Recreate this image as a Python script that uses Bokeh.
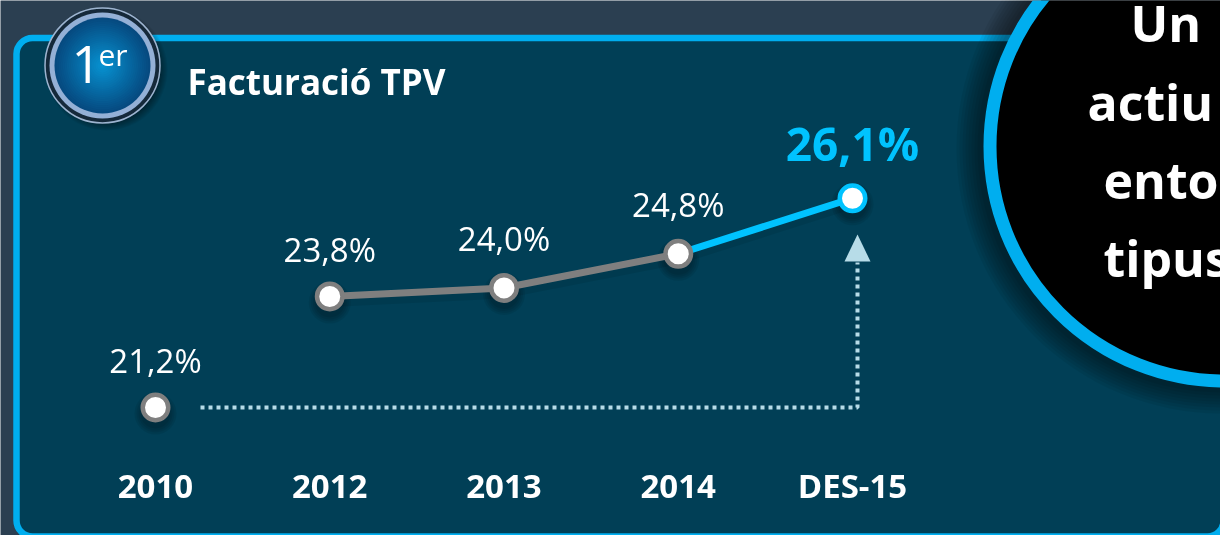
from bokeh.plotting import figure
from bokeh.models import Range1d, LinearAxis, FixedTicker, BoxAnnotation
from bokeh.core.properties import value
from bokeh.embed import file_html
from bokeh.resources import INLINE

categories = ["2010", "2012", "2013", "2014", "DES-15"]
values = [21.2, 23.8, 24.0, 24.8, 26.1]
labels = ["21,2%", "23,8%", "24,0%", "24,8%", "26,1%"]
title = "Facturació TPV"
circle_lines = ["Un", "actiu", "ento", "tipus"]

W, H = 1220, 535
FONT_NAME = "Open Sans"
FONT = value(FONT_NAME)
BLUE = "#00aeef"
CYAN = "#00c3ff"
GREY = "#7f7f7f"
PALE = "#b7dce8"
n = len(categories)
idx = list(range(n))
PX_PER_UNIT = 42.7

p = figure(width=W, height=H, output_backend="svg", toolbar_location=None,
           x_range=Range1d(-155 / 174.25, (W - 155) / 174.25),
           y_range=Range1d(21.2 - 128 / PX_PER_UNIT, 21.2 + 407 / PX_PER_UNIT),
           min_border=0, x_axis_type=None, y_axis_type=None,
           background_fill_color="#2b3f51", border_fill_color="#2b3f51",
           outline_line_color=None)
p.grid.visible = False
p.styles = {"position": "fixed", "left": "0px", "top": "0px"}
p.extra_x_ranges["px"] = Range1d(0, W)
p.extra_y_ranges["px"] = Range1d(H, 0)
PX = dict(x_range_name="px", y_range_name="px")

# panel
p.add_layout(BoxAnnotation(left=16, right=1223, top=37.5, bottom=536,
                           x_range_name="px", y_range_name="px",
                           fill_color="#013f56", fill_alpha=1, line_color=BLUE, line_alpha=1,
                           line_width=6.5, border_radius=16, level="underlay"))

# soft shadow and big circle
CX, CY, R = 1224, 146, 241
for i in range(8, 0, -1):
    p.circle([CX - 3], [CY + 2], radius=R + 3 * i, radius_units="screen", fill_color="black",
             fill_alpha=0.06, line_color=None, **PX)
p.circle([CX], [CY], radius=R - 6.5, radius_units="screen", fill_color="black",
         line_color=BLUE, line_width=13, **PX)

# badge
for i in range(8, 0, -1):
    p.circle([106], [69], radius=53 + i, radius_units="screen", fill_color="black",
             fill_alpha=0.05, line_color=None, **PX)
p.circle([102], [65], radius=57.5, radius_units="screen", fill_color="#15293a",
         line_color="#9db4d0", line_width=1.5, **PX)
p.circle([102], [65], radius=53, radius_units="screen", fill_color="#94b0d6",
         line_color=None, **PX)
steps = 24
for i in range(steps):
    t = i / (steps - 1)
    c = "#%02x%02x%02x" % (int(0x06 + (0x08 - 0x06) * t), int(0x4a + (0x93 - 0x4a) * t),
                           int(0x80 + (0xd2 - 0x80) * t))
    p.circle([102], [65], radius=47 * (1 - t) + 1, radius_units="screen", fill_color=c,
             line_color=None, **PX)

# dotted arrow
p.line([200, 857, 857], [407, 407, 262], line_color=PALE, line_width=4,
       line_dash="4 4", **PX)
p.patch([844, 870, 857], [261, 261, 234], fill_color=PALE, line_color=None, **PX)

# shadows of the series
shadow = [v - 6 / PX_PER_UNIT for v in values]
p.line(idx[1:5], shadow[1:5], line_color="black", line_alpha=0.08, line_width=9)
for s in (42, 38, 34, 30):
    p.scatter(idx, shadow, size=s, fill_color="black", fill_alpha=0.07, line_color=None)

# series
p.line(idx[1:4], values[1:4], line_color=GREY, line_width=7)
p.line(idx[3:5], values[3:5], line_color=CYAN, line_width=7)
p.scatter(idx[:4], values[:4], size=25.5, fill_color="white", line_color=GREY, line_width=4.5)
p.scatter(idx[4:], values[4:], size=25.5, fill_color="white", line_color=CYAN, line_width=4.5)

# data labels
offs = [-47, -47, -49, -49]
p.text(idx[:4], values[:4], text=labels[:4], text_color="white", text_font=FONT,
       text_font_size="33px", text_align="center", text_baseline="middle", y_offset=offs)
p.text(idx[4:], values[4:], text=labels[4:], text_color=CYAN, text_font=FONT,
       text_font_style="bold", text_font_size="46px", text_align="center",
       text_baseline="middle", y_offset=[-55])

# category axis
ax = LinearAxis(ticker=FixedTicker(ticks=idx),
                major_label_overrides={i: c for i, c in zip(idx, categories)},
                axis_line_color=None, major_tick_line_color=None, minor_tick_line_color=None,
                major_label_text_color="white", major_label_text_font=FONT_NAME,
                major_label_text_font_style="bold", major_label_text_font_size="33px",
                major_label_standoff=0, fixed_location=20.05)
p.add_layout(ax, "below")

# texts
p.text([187], [81], text=[title], text_color="white", text_font=FONT, text_font_style="bold",
       text_font_size="35px", text_baseline="middle", **PX)
p.text([71], [64], text=["1"], text_color="white", text_font=FONT,
       text_font_size="52px", text_baseline="middle", **PX)
p.text([98], [54], text=["er"], text_color="white", text_font=FONT,
       text_font_size="30px", text_baseline="middle", **PX)

xs = [1130, 1087, 1103, 1103]
ys = [22, 101, 179, 257]
p.text(xs, ys, text=circle_lines, text_color="white", text_font=FONT, text_font_style="bold",
       text_font_size="50px", text_baseline="middle", **PX)

open("out.html", "w").write(file_html(p, INLINE))
